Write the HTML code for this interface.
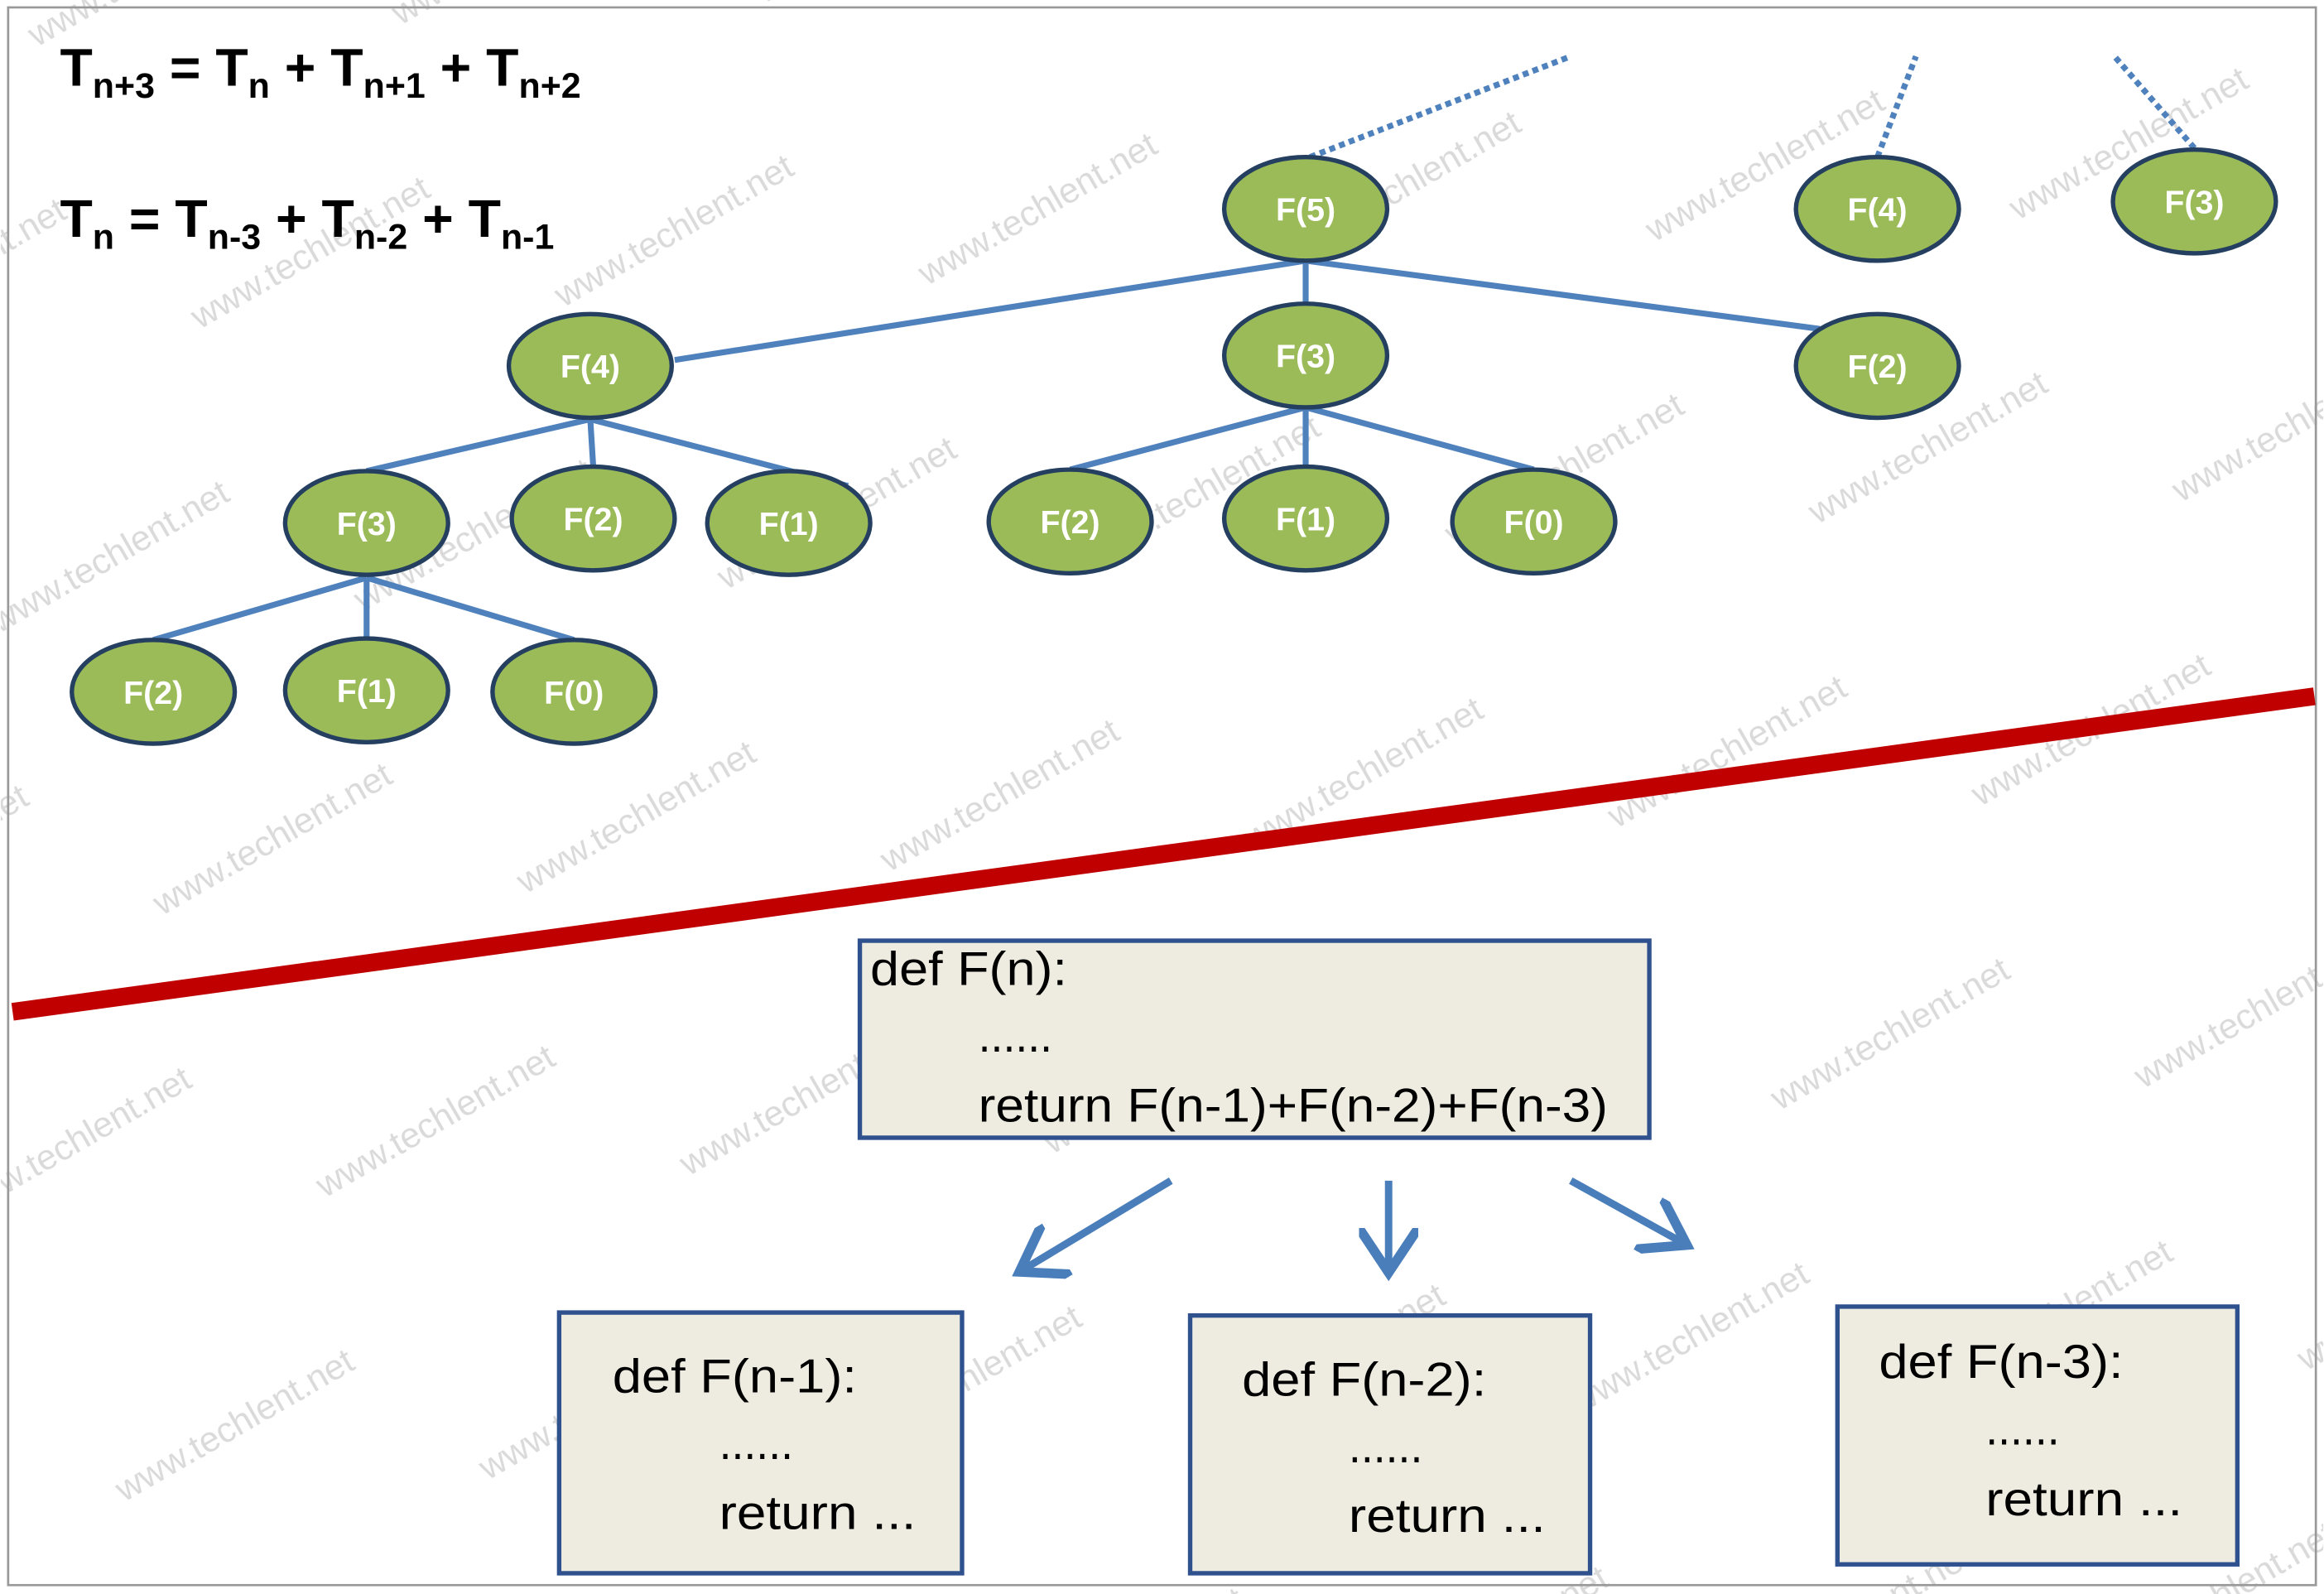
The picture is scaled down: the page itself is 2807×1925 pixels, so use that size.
<!DOCTYPE html>
<html><head><meta charset="utf-8"><style>
html,body{margin:0;padding:0;background:#fff}
svg{display:block}
text{font-family:"Liberation Sans",sans-serif}
</style></head><body>
<svg id="s" width="2807" height="1925" viewBox="0 0 1568 1076" xmlns="http://www.w3.org/2000/svg">
<defs>
<pattern id="wm" width="440" height="220" patternUnits="userSpaceOnUse" patternTransform="rotate(-30)">
<text x="5" y="40" font-size="24" fill="#dadada">www.techlent.net</text>
<text x="225" y="150" font-size="24" fill="#dadada">www.techlent.net</text>
</pattern>
<marker id="ah" markerWidth="8" markerHeight="8" refX="5" refY="4" orient="auto" markerUnits="strokeWidth"><path d="M0,0 L6,4 L0,8" fill="none" stroke="#4a7ebb" stroke-width="1.3"/></marker>
</defs>
<rect x="0" y="0" width="1568" height="1076" fill="#fff"/>
<rect x="0" y="0" width="1568" height="1076" fill="url(#wm)"/>
<rect x="5" y="5" width="1558" height="1065" fill="none" stroke="#999" stroke-width="1.5"/>
<g font-weight="bold" fill="#000">
<text x="40" y="58" font-size="36">T<tspan font-size="24" dy="8">n+3</tspan><tspan dy="-8"> = T</tspan><tspan font-size="24" dy="8">n</tspan><tspan dy="-8"> + T</tspan><tspan font-size="24" dy="8">n+1</tspan><tspan dy="-8"> + T</tspan><tspan font-size="24" dy="8">n+2</tspan></text>
<text x="40" y="160" font-size="36">T<tspan font-size="24" dy="8">n</tspan><tspan dy="-8"> = T</tspan><tspan font-size="24" dy="8">n-3</tspan><tspan dy="-8"> + T</tspan><tspan font-size="24" dy="8">n-2</tspan><tspan dy="-8"> + T</tspan><tspan font-size="24" dy="8">n-1</tspan></text>
</g>
<g id="edges" stroke="#4f81bd" stroke-width="4" fill="none"></g>
<g id="nodes"></g>
<line x1="8" y1="683" x2="1562" y2="470" stroke="#c00000" stroke-width="12"/>
<g font-size="32" fill="#000">
<rect x="580" y="635" width="533" height="133" fill="#eeece1" stroke="#2f528f" stroke-width="3"/>
<text x="587" y="665" textLength="133" lengthAdjust="spacingAndGlyphs">def F(n):</text><text x="660" y="710" textLength="50" lengthAdjust="spacingAndGlyphs">......</text><text x="660" y="757" textLength="425" lengthAdjust="spacingAndGlyphs">return F(n-1)+F(n-2)+F(n-3)</text>
<rect x="377" y="886" width="272" height="176" fill="#eeece1" stroke="#2f528f" stroke-width="3"/>
<text x="413" y="940" textLength="165" lengthAdjust="spacingAndGlyphs">def F(n-1):</text><text x="485" y="985" textLength="50" lengthAdjust="spacingAndGlyphs">......</text><text x="485" y="1032" textLength="133" lengthAdjust="spacingAndGlyphs">return ...</text>
<rect x="803" y="888" width="270" height="174" fill="#eeece1" stroke="#2f528f" stroke-width="3"/>
<text x="838" y="942" textLength="165" lengthAdjust="spacingAndGlyphs">def F(n-2):</text><text x="910" y="987" textLength="50" lengthAdjust="spacingAndGlyphs">......</text><text x="910" y="1034" textLength="133" lengthAdjust="spacingAndGlyphs">return ...</text>
<rect x="1240" y="882" width="270" height="174" fill="#eeece1" stroke="#2f528f" stroke-width="3"/>
<text x="1268" y="930" textLength="165" lengthAdjust="spacingAndGlyphs">def F(n-3):</text><text x="1340" y="975" textLength="50" lengthAdjust="spacingAndGlyphs">......</text><text x="1340" y="1023" textLength="133" lengthAdjust="spacingAndGlyphs">return ...</text>
</g>
<g stroke="#4a7ebb" stroke-width="5" marker-end="url(#ah)">
<line x1="790" y1="797" x2="692" y2="856"/>
<line x1="937" y1="797" x2="937" y2="854"/>
<line x1="1060" y1="797" x2="1134" y2="838"/>
</g>
</svg>
<script>
const labels=["F(5)","F(4)","F(3)","F(4)","F(3)","F(2)","F(3)","F(2)","F(1)","F(2)","F(1)","F(0)","F(2)","F(1)","F(0)"];
const cx=[881,1267,1481,398,881,1267,247,400,532,722,881,1035,103,247,387];
const cy=[141,141,136,247,240,247,353,350,353,352,350,352,467,466,467];
const solidEdges=[[881,176,455,243],[881,176,881,205],[881,176,1228,222],[398,283,247,318],[398,283,400,315],[398,283,572,328],[881,275,722,317],[881,275,881,315],[881,275,1035,317],[247,390,103,432],[247,390,247,431],[247,390,387,432]];
const dottedEdges=[[884,106,1060,38],[1267,106,1293,38],[1481,100,1427,38]];
const NS="http://www.w3.org/2000/svg";
const eg=document.getElementById('edges'),ng=document.getElementById('nodes');
solidEdges.concat(dottedEdges).forEach((e,i)=>{const l=document.createElementNS(NS,'line');
l.setAttribute('x1',e[0]);l.setAttribute('y1',e[1]);l.setAttribute('x2',e[2]);l.setAttribute('y2',e[3]);
if(i>=solidEdges.length)l.setAttribute('stroke-dasharray','4 3');


eg.appendChild(l);});
labels.forEach((t,i)=>{const g=document.createElementNS(NS,'g');


const el=document.createElementNS(NS,'ellipse');el.setAttribute('cx',cx[i]);el.setAttribute('cy',cy[i]);el.setAttribute('rx',55);el.setAttribute('ry',35);
el.setAttribute('fill','#9bbb59');el.setAttribute('stroke','#243f60');el.setAttribute('stroke-width',3);
const tx=document.createElementNS(NS,'text');tx.setAttribute('x',cx[i]);tx.setAttribute('y',cy[i]+8);tx.setAttribute('text-anchor','middle');
tx.setAttribute('font-size','22');tx.setAttribute('font-weight','bold');tx.setAttribute('fill','#fff');tx.textContent=t;
g.appendChild(el);g.appendChild(tx);ng.appendChild(g);});
</script>
</body></html>
